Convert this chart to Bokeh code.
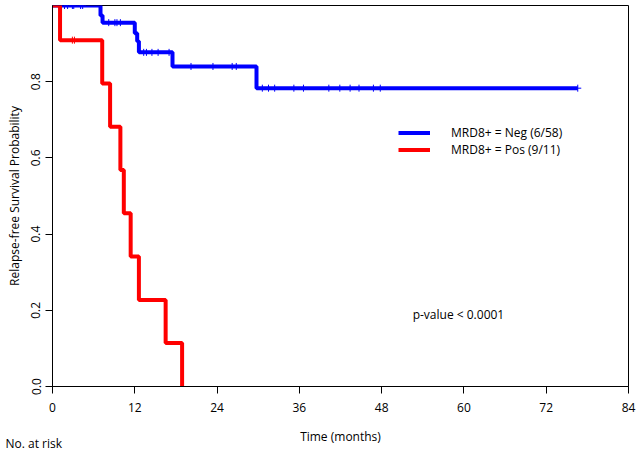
import numpy as np
from bokeh.plotting import figure
from bokeh.models import (Range1d, FixedTicker, Label, Legend, LegendItem,
                          PrintfTickFormatter, Title)
from bokeh.embed import file_html
from bokeh.resources import INLINE

# ---- data ----
x_ticks = [0, 12, 24, 36, 48, 60, 72, 84]
y_ticks = [0.0, 0.2, 0.4, 0.6, 0.8]

neg_label = "MRD8+ = Neg (6/58)"
neg_times = [0, 7.0, 7.3, 12.0, 12.35, 12.6, 17.5, 29.75, 76.6]
neg_surv = [1.0, 0.974, 0.955, 0.927, 0.906, 0.877, 0.840, 0.783, 0.783]
neg_censor = [1.75, 2.2, 2.9, 3.1, 4.1, 4.4, 8.2, 9.1, 9.4, 9.9, 13.3, 13.7,
              14.5, 15.4, 17.0, 20.2, 23.4, 26.2, 26.8, 30.6, 31.5, 32.4,
              35.2, 36.6, 40.3, 41.9, 43.4, 44.7, 46.8, 47.8, 76.6]

pos_label = "MRD8+ = Pos (9/11)"
pos_times = [0, 1.1, 7.25, 8.4, 9.9, 10.4, 11.4, 12.6, 16.5, 18.9]
pos_surv = [1.0, 0.909, 0.795, 0.682, 0.568, 0.455, 0.341, 0.227, 0.114, 0.0]
pos_censor = [2.9, 3.2]

p_text = "p-value < 0.0001"
risk_text = "No. at risk"
FONT = "Open Sans"


def level_at(times, surv, t):
    idx = np.searchsorted(np.asarray(times), np.asarray(t), side="right") - 1
    return list(np.asarray(surv)[idx])


p = figure(width=636, height=452, output_backend="svg", toolbar_location=None,
           x_range=Range1d(0, 84), y_range=Range1d(0, 1),
           min_border_left=52, min_border_right=8, min_border_top=5,
           min_border_bottom=66)
p.grid.visible = False
p.outline_line_color = "black"
p.outline_line_width = 1
p.background_fill_color = "white"
p.border_fill_color = "white"

for ax in (p.xaxis[0], p.yaxis[0]):
    ax.axis_line_color = "black"
    ax.major_tick_line_color = "black"
    ax.minor_tick_line_color = None
    ax.major_tick_out = 7
    ax.major_tick_in = 0
    ax.major_label_text_font = FONT
    ax.major_label_text_font_size = "12px"
    ax.major_label_text_color = "black"
    ax.axis_label_text_font = FONT
    ax.axis_label_text_font_size = "12px"
    ax.axis_label_text_font_style = "normal"
    ax.axis_label_text_color = "black"

p.xaxis.ticker = FixedTicker(ticks=x_ticks)
p.xaxis.major_label_standoff = 9
p.xaxis.axis_label = "Time (months)"
p.xaxis.axis_label_standoff = 13

p.yaxis.ticker = FixedTicker(ticks=y_ticks)
p.yaxis.formatter = PrintfTickFormatter(format="%.1f")
p.yaxis.major_label_orientation = "vertical"
p.yaxis.major_label_standoff = 5
p.yaxis.axis_label = "Relapse-free Survival Probability"
p.yaxis.axis_label_standoff = 6

r_neg = p.step(neg_times, neg_surv, mode="after", line_color="#0000FF",
               line_width=4)
p.scatter(neg_censor, level_at(neg_times, neg_surv, neg_censor),
          marker="cross", size=7, line_color="#0000FF", line_width=1)

r_pos = p.step(pos_times, pos_surv, mode="after", line_color="#FF0000",
               line_width=4)
p.scatter(pos_censor, level_at(pos_times, pos_surv, pos_censor),
          marker="cross", size=7, line_color="#FF0000", line_width=1)

legend = Legend(items=[LegendItem(label=neg_label, renderers=[r_neg]),
                       LegendItem(label=pos_label, renderers=[r_pos])],
                location=(346, 228), padding=0, margin=0, spacing=-5,
                glyph_width=32, glyph_height=15, label_height=15,
                label_standoff=21, border_line_alpha=0,
                background_fill_alpha=0, label_text_font=FONT,
                label_text_font_size="12px", label_text_color="black")
p.add_layout(legend)

p.add_layout(Label(x=59.2, y=0.19, text=p_text, text_align="center",
                   text_baseline="middle", text_font=FONT,
                   text_font_size="12px", text_color="black"))

p.add_layout(Title(text=risk_text, align="left", vertical_align="top",
                   offset=-47, standoff=-26, text_font=FONT,
                   text_font_size="12px", text_font_style="normal",
                   text_color="black"), "below")

open("out.html", "w").write(file_html(p, INLINE))
